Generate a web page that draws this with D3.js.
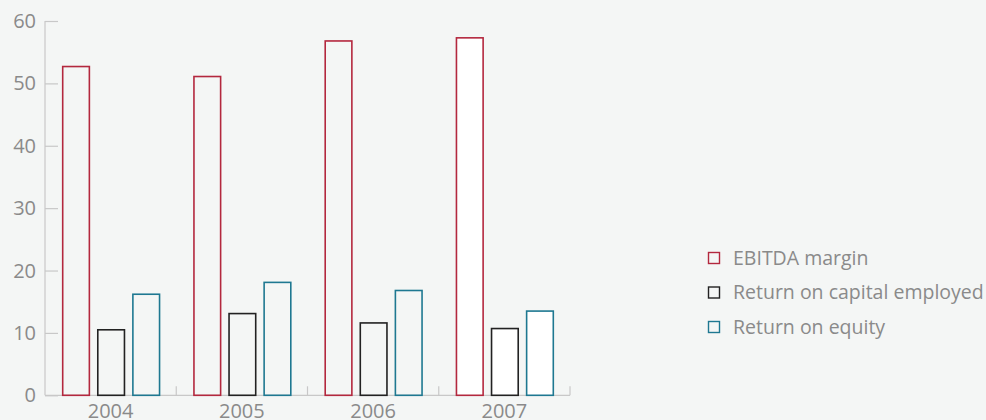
<!DOCTYPE html>
<html>
<head>
<meta charset="utf-8">
<script src="https://cdn.jsdelivr.net/npm/d3@7"></script>
<style>
  html, body { margin: 0; padding: 0; background: #f4f6f5; }
  svg { display: block; }
  text { font-family: "Open Sans", "Noto Sans", sans-serif; fill: #8a8a8a; }
</style>
</head>
<body>
<svg id="chart" width="986" height="420"></svg>
<script>
// Key ratios, per cent
const years = ["2004", "2005", "2006", "2007"];
const seriesNames = ["EBITDA margin", "Return on capital employed", "Return on equity"];
const ebitdaMargin = [52.7, 51.1, 56.8, 57.3];
const returnOnCapital = [10.5, 13.1, 11.6, 10.7];
const returnOnEquity = [16.2, 18.1, 16.8, 13.5];
const yTicks = [0, 10, 20, 30, 40, 50, 60];

const seriesValues = [ebitdaMargin, returnOnCapital, returnOnEquity];
const colors = ["#b3283e", "#222222", "#1e7891"];

const svg = d3.select("#chart");
const plotLeft = 45, plotRight = 570, plotTop = 21, plotBottom = 395.3;

const x = d3.scaleBand().domain(years).range([plotLeft, plotRight]).paddingInner(0).paddingOuter(0);
const xs = d3.scaleBand().domain(seriesNames).range([17.7, x.bandwidth() - 16.7]).paddingInner(0.24).paddingOuter(0);
const y = d3.scaleLinear().domain([0, 60]).range([plotBottom, plotTop]);

const axisColor = "#c8c8c8";

// y axis: vertical line plus inward ticks
const yAxis = svg.append("g").attr("transform", `translate(${plotLeft},0)`)
  .call(d3.axisRight(y).tickValues(yTicks).tickSize(13).tickFormat(""));
yAxis.select(".domain").remove();
yAxis.selectAll("line").attr("stroke", axisColor).attr("stroke-width", 1.2);
svg.append("line").attr("x1", plotLeft).attr("x2", plotLeft).attr("y1", y(60)).attr("y2", plotBottom)
  .attr("stroke", axisColor).attr("stroke-width", 1.2);
svg.append("g").selectAll("text").data(yTicks).join("text")
  .attr("x", 36).attr("y", d => y(d)).attr("dy", "0.35em")
  .attr("text-anchor", "end").attr("font-size", 20).text(d => d);

// x axis with dividers at the end of each year group
svg.append("line").attr("x1", plotLeft).attr("x2", plotRight).attr("y1", plotBottom).attr("y2", plotBottom)
  .attr("stroke", axisColor).attr("stroke-width", 1.2);
svg.append("g").selectAll("line").data(years).join("line")
  .attr("x1", d => x(d) + x.bandwidth()).attr("x2", d => x(d) + x.bandwidth())
  .attr("y1", plotBottom).attr("y2", plotBottom - 9)
  .attr("stroke", axisColor).attr("stroke-width", 1.2);
svg.append("g").selectAll("text").data(years).join("text")
  .attr("x", d => x(d) + x.bandwidth() / 2).attr("y", 418)
  .attr("text-anchor", "middle").attr("font-size", 20).text(d => d);

// bars
const bars = [];
years.forEach((yr, i) => {
  seriesNames.forEach((s, j) => bars.push({ yr, s, j, v: seriesValues[j][i] }));
});
svg.append("g").selectAll("rect").data(bars).join("rect")
  .attr("x", d => x(d.yr) + xs(d.s))
  .attr("width", xs.bandwidth())
  .attr("y", d => y(d.v))
  .attr("height", d => plotBottom - y(d.v))
  .attr("fill", d => d.yr === "2007" ? "#ffffff" : "none")
  .attr("stroke", d => colors[d.j])
  .attr("stroke-width", 1.6);

// legend
const legend = svg.append("g").selectAll("g").data(seriesNames).join("g")
  .attr("transform", (d, i) => `translate(708,${258 + i * 34.5})`);
legend.append("rect").attr("x", 0.5).attr("y", -5.5).attr("width", 11).attr("height", 11)
  .attr("fill", "none").attr("stroke", (d, i) => colors[i]).attr("stroke-width", 1.4);
legend.append("text").attr("x", 25).attr("y", 0).attr("dy", "0.35em")
  .attr("font-size", 19.5).text(d => d);
</script>
</body>
</html>
